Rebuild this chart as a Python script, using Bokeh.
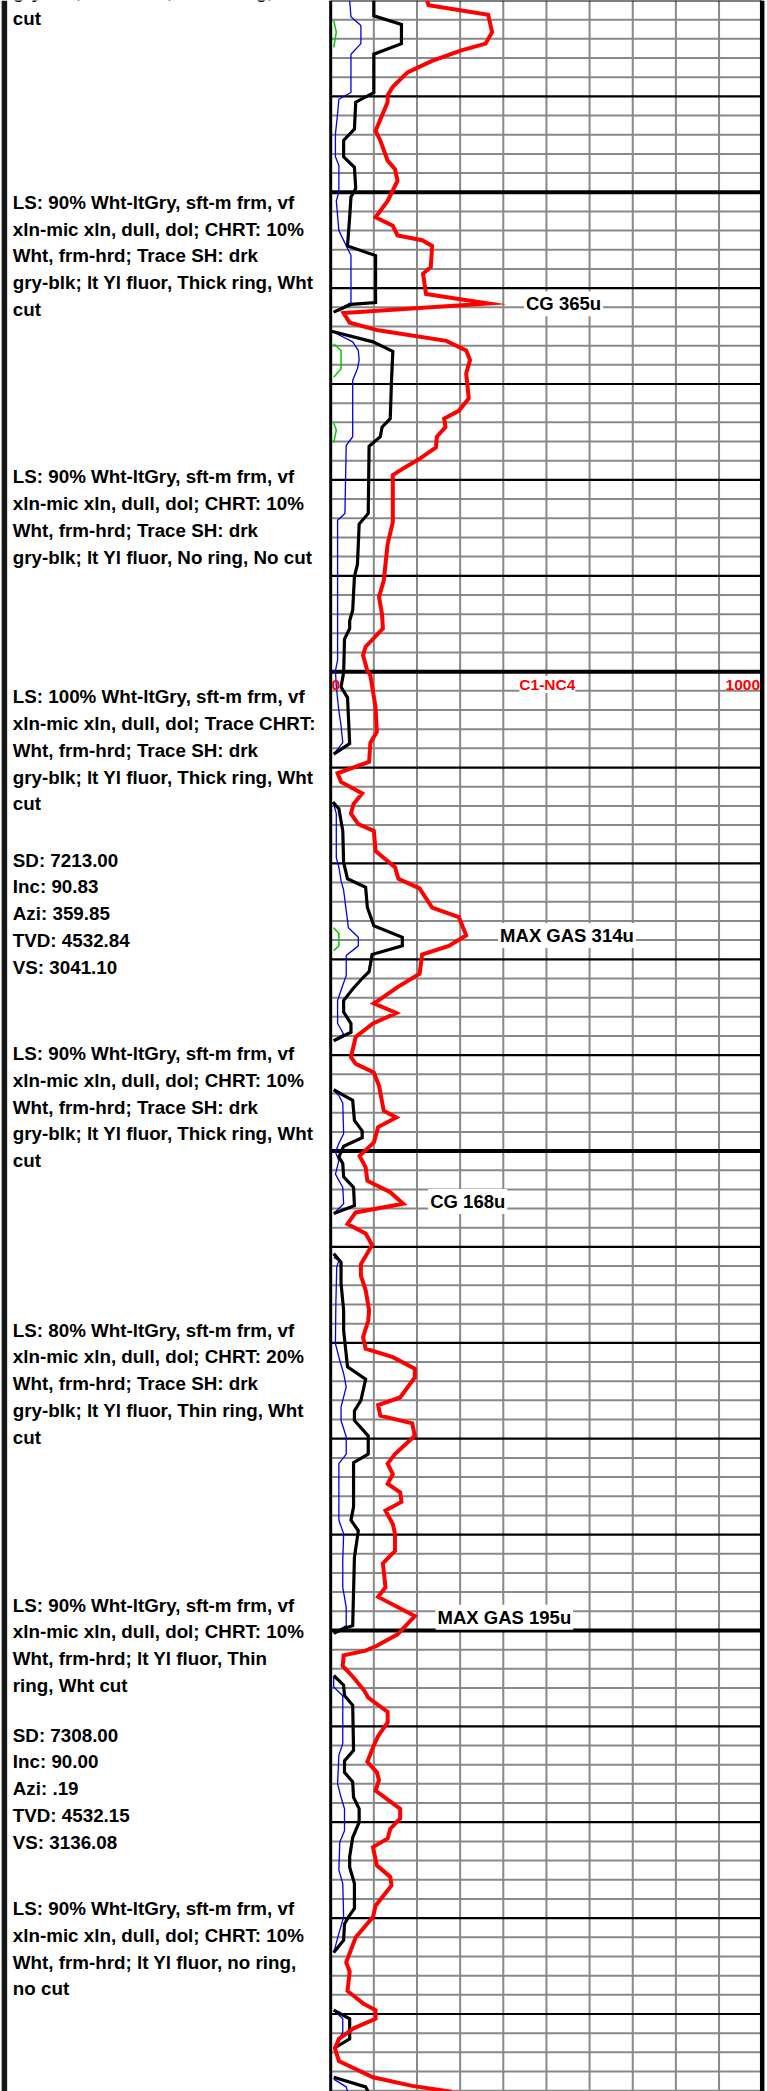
import numpy as np
from bokeh.plotting import figure
from bokeh.models import Range1d, Label
from bokeh.core.properties import value
from bokeh.embed import file_html
from bokeh.resources import INLINE

NAN = float("nan")

# ---------------- data ----------------
# Total gas C1-NC4 (units, track scale 0-1000) versus measured depth (ft)
gas_depth = [7130.0, 7130.5, 7131.5, 7133.3, 7134.5, 7135.2, 7136.3, 7137.5, 7139.0, 7139.9,
             7140.6, 7143.6, 7144.6, 7146.7, 7147.6, 7148.8, 7150.9, 7152.6, 7153.5, 7154.5,
             7155.0, 7155.6, 7157.8, 7158.5, 7160.6, 7161.6, 7162.6, 7163.6, 7164.4, 7165.5,
             7166.5, 7167.5, 7168.9, 7171.5, 7172.8, 7173.6, 7174.5, 7175.5, 7176.6, 7177.8,
             7178.7, 7179.5, 7184.4, 7186.7, 7190.5, 7192.2, 7194.0, 7195.5, 7197.4, 7198.3,
             7199.9, 7200.4, 7203.7, 7206.3, 7207.4, 7209.4, 7210.6, 7211.5, 7212.7, 7213.8,
             7214.8, 7215.9, 7216.6, 7218.7, 7220.4, 7221.6, 7222.6, 7224.6, 7225.6, 7227.5,
             7228.6, 7229.5, 7231.5, 7232.9, 7234.3, 7234.6, 7235.6, 7236.7, 7238.1, 7240.2,
             7240.9, 7241.8, 7243.2, 7245.8, 7246.5, 7247.5, 7249.1, 7250.5, 7251.7, 7253.1,
             7254.3, 7255.5, 7256.4, 7257.6, 7258.6, 7259.8, 7261.8, 7263.0, 7264.5, 7266.6,
             7267.7, 7269.4, 7270.6, 7271.5, 7272.7, 7273.6, 7275.7, 7276.5, 7277.6, 7278.4,
             7279.7, 7281.6, 7282.6, 7283.7, 7284.7, 7285.6, 7286.6, 7287.5, 7288.9, 7289.9,
             7291.7, 7293.0, 7295.5, 7296.5, 7298.5, 7300.4, 7301.6, 7302.1, 7302.6, 7303.7,
             7304.9, 7306.3, 7307.0, 7308.5, 7309.6, 7311.0, 7312.2, 7313.7, 7314.8, 7315.6,
             7316.7, 7318.6, 7319.6, 7320.7, 7321.7, 7322.6, 7324.5, 7325.7, 7326.6, 7328.7,
             7329.9, 7332.0, 7334.6, 7335.6, 7337.6, 7338.9, 7339.6, 7340.5, 7341.5, 7342.6,
             7343.6, 7344.9, 7346.6, 7347.5, 7348.1]
gas_units = [223, 227, 365, 374, 359, 303, 235, 178, 144, 132,
             132, 104, 115, 132, 149, 155, 132, 104, 144, 155,
             212, 235, 232, 214, 221, 365, 30, 44, 110, 268,
             314, 323, 314, 320, 297, 263, 266, 246, 244, 206,
             172, 144, 144, 132, 123, 112, 119, 121, 81, 75,
             85, 92, 104, 107, 92, 89, 16, 24, 73, 53,
             47, 64, 100, 104, 149, 157, 206, 235, 297, 314,
             274, 212, 206, 155, 110, 100, 152, 98, 58, 47,
             58, 100, 112, 123, 152, 110, 100, 67, 81, 85,
             138, 168, 58, 39, 81, 96, 70, 70, 81, 89,
             87, 75, 81, 144, 195, 195, 161, 110, 115, 189,
             195, 149, 132, 144, 132, 161, 164, 127, 144, 149,
             149, 121, 127, 110, 195, 155, 107, 81, 30, 28,
             53, 78, 87, 132, 132, 110, 98, 85, 107, 112,
             104, 161, 161, 138, 132, 98, 107, 138, 141, 104,
             98, 58, 36, 44, 39, 75, 104, 104, 53, 19,
             10, 19, 98, 189, 280]

# Rate of penetration (black, scale 0-100 across the track); NaN = connection gap
rop_depth = [7130.0, 7131.6, 7132.5, 7134.5, 7135.6, 7139.6, 7140.6, 7143.4, 7144.6, 7146.3,
             7147.4, 7149.6, 7150.5, 7152.6, 7155.6, 7156.6, 7161.5, 7161.7, 7162.5, NAN,
             7164.5, 7165.6, 7166.6, 7169.6, 7173.6, 7174.5, 7175.5, 7176.5, 7183.5, 7184.6,
             7188.8, 7190.1, 7193.6, 7194.7, 7195.5, 7196.6, 7200.1, 7201.6, 7202.7, 7207.5,
             7208.6, NAN,
             7213.6, 7214.3, 7216.6, 7219.9, 7221.6, 7222.5, 7224.6, 7226.5, 7227.7, 7228.6,
             7229.5, 7231.3, 7231.9, 7233.1, 7234.3, 7235.5, 7236.7, 7237.6, 7238.5, NAN,
             7243.6, 7244.2, 7244.7, 7246.8, 7247.9, 7248.6, 7249.5, 7250.6, 7251.3, 7252.7,
             7253.8, 7255.7, 7256.5, NAN,
             7260.7, 7261.6, 7263.8, 7266.6, 7268.7, 7272.5, 7273.8, 7276.0, 7277.1, 7278.1,
             7279.7, 7281.6, 7282.5, 7287.1, 7288.5, 7289.6, 7292.4, 7299.5, 7299.8, 7300.3, NAN,
             7304.7, 7305.7, 7306.8, 7307.8, 7312.5, 7313.6, 7314.8, 7315.8, 7317.4, 7318.6,
             7320.0, 7321.6, 7323.6, 7324.7, 7326.4, 7329.0, 7329.9, 7330.6, 7332.3, 7333.6, NAN,
             7339.6, 7340.5, 7342.6, 7343.6, NAN,
             7346.6, 7347.6, 7348.1]
rop_value = [10.0, 10.0, 16.4, 16.4, 10.0, 10.0, 5.8, 5.5, 3.0, 3.0,
             5.5, 5.8, 4.7, 4.4, 3.9, 10.4, 10.4, 4.7, 0.7, NAN,
             0.2, 9.8, 14.4, 14.1, 13.8, 11.9, 11.5, 8.9, 8.7, 6.6,
             6.2, 5.5, 5.1, 4.4, 4.4, 3.2, 3.0, 2.4, 3.9, 4.4,
             0.7, NAN,
             0.5, 1.9, 2.8, 3.0, 3.9, 8.1, 8.5, 10.0, 16.6, 16.6,
             9.6, 8.9, 7.5, 5.1, 3.0, 3.0, 4.7, 4.7, 0.7, NAN,
             0.7, 3.0, 5.1, 5.5, 7.3, 7.3, 3.0, 1.9, 2.8, 3.0,
             5.3, 5.5, 0.7, NAN,
             0.7, 2.4, 2.4, 3.0, 3.0, 3.9, 8.1, 7.0, 5.5, 5.5,
             8.7, 8.7, 5.3, 5.3, 4.7, 6.4, 5.5, 5.1, 3.0, 0.7, NAN,
             0.7, 3.0, 3.2, 5.1, 5.3, 3.2, 3.2, 5.1, 5.3, 6.6,
             6.6, 5.1, 4.4, 4.4, 5.5, 5.5, 4.1, 3.2, 3.0, 0.7, NAN,
             0.7, 4.4, 4.4, 0.7, NAN,
             0.7, 8.1, 8.7]

# Blue curve (same 0-100 scale)
blue_depth = [7130.0, 7131.7, 7132.6, 7134.5, 7135.6, 7139.6, 7140.3, 7141.8, 7143.9, 7146.3,
              7147.2, 7150.0, 7150.9, 7154.0, 7156.6, 7161.5, 7162.2, 7162.5, NAN,
              7164.6, 7165.6, 7166.5, 7167.5, 7168.4, 7169.6, 7175.5, 7176.4, 7183.5, 7184.2,
              7198.8, 7199.9, 7201.6, 7204.1, 7205.6, 7207.4, 7208.6, NAN,
              7213.8, 7214.8, 7219.4, 7220.4, 7221.8, 7222.8, 7226.7, 7227.7, 7228.6, 7229.6,
              7231.7, 7232.7, 7234.3, 7236.7, 7237.8, 7238.5, NAN,
              7243.7, 7244.2, 7245.0, 7248.2, 7249.2, 7250.1, 7251.0, 7252.4, 7253.8, 7255.5,
              7256.5, NAN,
              7261.1, 7261.4, 7262.1, 7265.9, 7270.1, 7271.5, 7273.2, 7274.6, 7276.7, 7278.1,
              7279.8, 7281.6, 7282.6, 7288.5, 7289.9, 7292.7, 7295.5, 7297.6, 7299.5, 7300.3, NAN,
              7304.9, 7305.9, 7306.8, 7311.8, 7313.0, 7316.0, 7317.4, 7318.6, 7320.9, 7322.1,
              7325.0, 7326.4, 7329.9, 7331.6, 7333.6, NAN,
              7339.6, 7340.5, 7341.9, 7343.6, NAN,
              7346.8, 7347.6, 7348.1]
blue_value = [4.4, 4.7, 7.0, 7.0, 4.7, 4.7, 1.9, 1.6, 1.1, 1.1,
              1.9, 1.9, 1.3, 1.9, 4.7, 4.7, 1.9, 0.7, NAN,
              0.7, 5.1, 6.4, 6.6, 6.2, 5.1, 5.1, 3.6, 3.3, 1.6,
              1.6, 1.1, 1.3, 1.9, 2.4, 2.8, 0.7, NAN,
              0.7, 1.3, 1.3, 1.9, 2.4, 3.0, 4.1, 6.4, 6.4, 3.6,
              3.6, 2.8, 1.6, 1.6, 3.0, 0.7, NAN,
              0.7, 1.9, 2.8, 3.0, 1.9, 1.1, 1.9, 1.1, 2.8, 3.0,
              0.7, NAN,
              0.7, 1.9, 1.4, 1.2, 1.1, 1.9, 3.0, 3.6, 2.4, 2.4,
              3.6, 3.6, 1.9, 1.9, 3.0, 2.8, 2.8, 3.6, 3.6, 0.7, NAN,
              0.7, 0.7, 2.8, 2.8, 1.9, 1.6, 2.4, 3.2, 3.2, 2.1,
              1.9, 2.8, 3.0, 1.9, 0.7, NAN,
              0.7, 2.8, 2.8, 0.7, NAN,
              0.7, 3.6, 3.9]

# Green curve (same 0-100 scale)
green_depth = [7132.1, 7133.3, 7134.9, NAN, 7165.8, 7166.5, 7168.4, 7169.3, NAN,
               7174.1, 7174.8, 7176.1, NAN, 7226.7, 7227.3, 7228.6, 7229.1]
green_value = [0.7, 1.3, 0.7, NAN, 0.7, 2.4, 2.4, 0.7, NAN,
               0.7, 1.3, 0.7, NAN, 0.7, 1.9, 1.9, 0.7]

# Lithology / survey descriptions (first-line depth, lines)
desc_depths = [7129.08, 7151.04, 7179.68, 7202.62, 7219.66, 7239.82, 7268.68, 7297.36, 7310.92, 7329.00]
desc_lines = [
    ["gry-blk; lt Yl fluor,  Thick ring, Wht", "cut"],
    ["LS: 90% Wht-ltGry, sft-m frm, vf", "xln-mic xln, dull, dol; CHRT: 10%",
     "Wht, frm-hrd;  Trace SH: drk", "gry-blk; lt Yl fluor,  Thick ring, Wht", "cut"],
    ["LS: 90% Wht-ltGry, sft-m frm, vf", "xln-mic xln, dull, dol; CHRT: 10%",
     "Wht, frm-hrd;  Trace SH: drk", "gry-blk; lt Yl fluor,  No ring, No cut"],
    ["LS: 100% Wht-ltGry, sft-m frm, vf", "xln-mic xln, dull, dol; Trace CHRT:",
     "Wht, frm-hrd;  Trace SH: drk", "gry-blk; lt Yl fluor,  Thick ring, Wht", "cut"],
    ["SD: 7213.00", "Inc: 90.83", "Azi: 359.85", "TVD: 4532.84", "VS: 3041.10"],
    ["LS: 90% Wht-ltGry, sft-m frm, vf", "xln-mic xln, dull, dol; CHRT: 10%",
     "Wht, frm-hrd;  Trace SH: drk", "gry-blk; lt Yl fluor,  Thick ring, Wht", "cut"],
    ["LS: 80% Wht-ltGry, sft-m frm, vf", "xln-mic xln, dull, dol; CHRT: 20%",
     "Wht, frm-hrd;  Trace SH: drk", "gry-blk; lt Yl fluor,  Thin ring, Wht", "cut"],
    ["LS: 90% Wht-ltGry, sft-m frm, vf", "xln-mic xln, dull, dol; CHRT: 10%",
     "Wht, frm-hrd; lt Yl fluor,  Thin", "ring, Wht cut"],
    ["SD: 7308.00", "Inc: 90.00", "Azi: .19", "TVD: 4532.15", "VS: 3136.08"],
    ["LS: 90% Wht-ltGry, sft-m frm, vf", "xln-mic xln, dull, dol; CHRT: 10%",
     "Wht, frm-hrd; lt Yl fluor,  no ring,", "no cut"],
]

# Gas annotations
gas_notes = ["CG 365u", "MAX GAS 314u", "CG 168u", "MAX GAS 195u"]
gas_note_depth = [7161.63, 7227.52, 7255.26, 7298.62]
gas_note_x = [448, 388, 226, 243]

scale_labels = ["0", "C1-NC4", "1000"]

# ---------------- figure ----------------
TOP, BOT = 7130.0, 7130.0 + 2091 / 9.588
X0, X1 = -765.2, 1012.3

p = figure(width=767, height=2091, x_range=Range1d(X0, X1), y_range=Range1d(BOT, TOP),
           output_backend="svg", toolbar_location=None, min_border=0,
           x_axis_location=None, y_axis_location=None)
p.extra_x_ranges = {"rop": Range1d(X0 / 10.0, X1 / 10.0)}
p.grid.visible = False
p.outline_line_color = None
p.background_fill_color = "white"
p.border_fill_color = "white"

# grid of the gas track
vx = np.arange(100, 1000, 100)
p.segment(x0=vx, y0=TOP, x1=vx, y1=BOT, line_color="#888888", line_width=2)
dep = np.arange(7130, 7350, 2)
minor = dep[dep % 10 != 0]
medium = dep[(dep % 10 == 0) & (dep % 50 != 0)]
thick = dep[dep % 50 == 0]
p.segment(x0=0, y0=minor, x1=1000, y1=minor, line_color="#888888", line_width=2)
p.segment(x0=0, y0=medium, x1=1000, y1=medium, line_color="black", line_width=2.2)
p.segment(x0=0, y0=thick, x1=1000, y1=thick, line_color="black", line_width=4)
p.segment(x0=[0, 1000], y0=TOP, x1=[0, 1000], y1=BOT, line_color="black", line_width=[3, 4.5])
# left border of the description column
p.segment(x0=X0 + 3.9 / 0.4315, y0=TOP, x1=X0 + 3.9 / 0.4315, y1=BOT, line_color="#151515", line_width=5.5)

# curves
p.line(green_value, green_depth, x_range_name="rop", line_color="#00cc00", line_width=1.5)
p.line(blue_value, blue_depth, x_range_name="rop", line_color="#0000ee", line_width=1.3)
p.line(rop_value, rop_depth, x_range_name="rop", line_color="black", line_width=3.2, line_join="miter")
p.line(gas_units, gas_depth, line_color="#ff0000", line_width=4, line_join="miter")

# description texts
LINE_FT = 26.8 / 9.588
tx, ty, tt = [], [], []
for d0, lines in zip(desc_depths, desc_lines):
    for i, s in enumerate(lines):
        tx.append(X0 + 12.3 / 0.4315)
        ty.append(d0 + i * LINE_FT)
        tt.append(s)
p.text(x=tx, y=ty, text=tt, text_font=value("Liberation Sans"), text_font_size="18.8px",
       text_font_style="bold", text_baseline="alphabetic", text_align="left", text_color="black")

# gas annotations with white boxes
for s, d, x in zip(gas_notes, gas_note_depth, gas_note_x):
    p.add_layout(Label(x=x, y=d, text=s, text_font="Liberation Sans", text_font_size="18.5px",
                       text_font_style="bold", text_baseline="middle", text_align="left",
                       text_color="black", background_fill_color="white", padding=2))

# red scale labels
for s, x, al in zip(scale_labels, [2, 502, 995], ["left", "center", "right"]):
    p.add_layout(Label(x=x, y=7201.35, text=s, text_color="#ff0000",
                       text_font="Liberation Sans", text_font_size="15.5px",
                       text_font_style="bold", text_baseline="alphabetic", text_align=al,
                       background_fill_color="white" if s == "C1-NC4" else None))

open("out.html", "w").write(file_html(p, INLINE))
